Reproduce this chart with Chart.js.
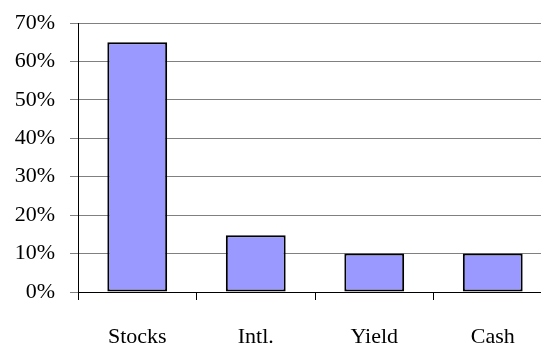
<!DOCTYPE html>
<html>
<head>
<meta charset="utf-8">
<script src="https://cdn.jsdelivr.net/npm/chart.js@4"></script>
<style>
html,body{margin:0;padding:0;overflow:hidden;background:#fff;}
#wrap{width:560px;height:345px;position:relative;}
</style>
</head>
<body>
<div id="wrap"><canvas id="c"></canvas></div>
<script>
const categories = ["Stocks", "Intl.", "Yield", "Cash"];
const allocation = [65, 14.8, 10, 10];
const yTicks = [0, 10, 20, 30, 40, 50, 60, 70];

const FONT = "Liberation Serif";
Chart.defaults.font.family = FONT;

new Chart(document.getElementById('c'), {
  type: 'bar',
  data: {
    labels: categories,
    datasets: [{
      data: allocation,
      backgroundColor: '#9999FF',
      borderColor: '#000000',
      borderWidth: 2,
      borderSkipped: false,
      categoryPercentage: 1,
      barPercentage: 0.505
    }]
  },
  options: {
    responsive: true,
    maintainAspectRatio: false,
    animation: false,
    devicePixelRatio: 1,
    layout: { padding: { top: 23, right: 8, left: 0, bottom: 0 } },
    plugins: { legend: { display: false }, tooltip: { enabled: false } },
    scales: {
      x: {
        grid: { offset: true, drawOnChartArea: false, drawTicks: true, tickLength: 8, color: '#000000', lineWidth: 1 },
        border: { color: '#000000', width: 1 },
        ticks: { color: '#000000', font: { family: FONT, size: 22 }, padding: 24, maxRotation: 0, autoSkip: false },
        afterFit: s => { s.height = 53; s.paddingLeft = 0; s.paddingRight = 0; }
      },
      y: {
        min: 0, max: 70,
        afterBuildTicks: s => { s.ticks = yTicks.map(v => ({ value: v })); },
        grid: { color: '#808080', lineWidth: 1, drawTicks: true, tickLength: 8 },
        border: { color: '#000000', width: 1 },
        ticks: { color: '#000000', font: { family: FONT, size: 22 }, padding: 15, callback: v => v + '%' },
        afterFit: s => { s.width = 78; s.paddingTop = 0; s.paddingBottom = 0; }
      }
    }
  }
});
</script>
</body>
</html>
